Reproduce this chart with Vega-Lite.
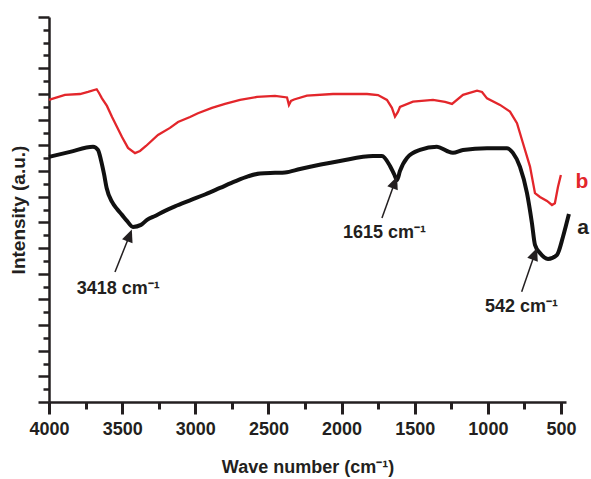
{
  "$schema": "https://vega.github.io/schema/vega-lite/v6.json",
  "width": 517,
  "height": 385,
  "autosize": {"type": "none"},
  "padding": {"left": 49, "top": 17, "right": 25, "bottom": 77},
  "background": "white",
  "config": {
    "view": {"stroke": null},
    "font": "Liberation Sans",
    "axis": {"labelFont": "Liberation Sans", "titleFont": "Liberation Sans", "grid": false, "domainColor": "#231f20", "tickColor": "#231f20", "labelColor": "#231f20", "titleColor": "#231f20"}
  },
  "datasets": {
    "a": [
      {"wn": 4000, "val": 19.10}, {"wn": 3856, "val": 19.49}, {"wn": 3699, "val": 19.88}, {"wn": 3665, "val": 19.64},
      {"wn": 3645, "val": 18.86}, {"wn": 3624, "val": 17.77}, {"wn": 3606, "val": 16.68}, {"wn": 3569, "val": 15.59},
      {"wn": 3535, "val": 15.04}, {"wn": 3501, "val": 14.58}, {"wn": 3467, "val": 14.11}, {"wn": 3426, "val": 13.64},
      {"wn": 3371, "val": 13.80}, {"wn": 3330, "val": 14.19}, {"wn": 3275, "val": 14.50}, {"wn": 3207, "val": 14.89},
      {"wn": 3139, "val": 15.24}, {"wn": 3036, "val": 15.71}, {"wn": 2934, "val": 16.17}, {"wn": 2831, "val": 16.68},
      {"wn": 2729, "val": 17.19}, {"wn": 2640, "val": 17.58}, {"wn": 2558, "val": 17.81}, {"wn": 2455, "val": 17.86},
      {"wn": 2387, "val": 17.89}, {"wn": 2284, "val": 18.16}, {"wn": 2011, "val": 18.78}, {"wn": 1785, "val": 19.17},
      {"wn": 1724, "val": 19.17}, {"wn": 1669, "val": 18.39}, {"wn": 1642, "val": 17.77}, {"wn": 1621, "val": 17.30},
      {"wn": 1601, "val": 18.00}, {"wn": 1553, "val": 19.02}, {"wn": 1464, "val": 19.64}, {"wn": 1348, "val": 19.88},
      {"wn": 1280, "val": 19.56}, {"wn": 1239, "val": 19.43}, {"wn": 1170, "val": 19.64}, {"wn": 1006, "val": 19.77},
      {"wn": 870, "val": 19.77}, {"wn": 829, "val": 19.41}, {"wn": 781, "val": 18.34}, {"wn": 733, "val": 16.29},
      {"wn": 699, "val": 13.95}, {"wn": 678, "val": 12.24}, {"wn": 644, "val": 11.61}, {"wn": 589, "val": 11.15},
      {"wn": 528, "val": 11.46}, {"wn": 487, "val": 12.86}, {"wn": 467, "val": 13.72}, {"wn": 446, "val": 14.65}
    ],
    "b": [
      {"wn": 4000, "val": 23.54}, {"wn": 3979, "val": 23.62}, {"wn": 3891, "val": 23.93}, {"wn": 3788, "val": 24.00},
      {"wn": 3733, "val": 24.16}, {"wn": 3674, "val": 24.37}, {"wn": 3658, "val": 24.08}, {"wn": 3638, "val": 23.66},
      {"wn": 3604, "val": 23.07}, {"wn": 3569, "val": 22.21}, {"wn": 3535, "val": 21.43}, {"wn": 3501, "val": 20.65},
      {"wn": 3460, "val": 19.80}, {"wn": 3412, "val": 19.39}, {"wn": 3378, "val": 19.56}, {"wn": 3337, "val": 19.95},
      {"wn": 3255, "val": 20.81}, {"wn": 3173, "val": 21.36}, {"wn": 3118, "val": 21.82}, {"wn": 3036, "val": 22.21},
      {"wn": 2982, "val": 22.50}, {"wn": 2886, "val": 22.92}, {"wn": 2797, "val": 23.23}, {"wn": 2694, "val": 23.54},
      {"wn": 2578, "val": 23.77}, {"wn": 2455, "val": 23.85}, {"wn": 2373, "val": 23.73}, {"wn": 2360, "val": 23.14},
      {"wn": 2346, "val": 23.46}, {"wn": 2325, "val": 23.57}, {"wn": 2237, "val": 23.88}, {"wn": 2059, "val": 24.00},
      {"wn": 1826, "val": 24.00}, {"wn": 1751, "val": 23.92}, {"wn": 1690, "val": 23.54}, {"wn": 1656, "val": 22.92},
      {"wn": 1635, "val": 22.24}, {"wn": 1615, "val": 22.60}, {"wn": 1601, "val": 22.99}, {"wn": 1512, "val": 23.41},
      {"wn": 1375, "val": 23.54}, {"wn": 1293, "val": 23.38}, {"wn": 1245, "val": 23.23}, {"wn": 1170, "val": 23.93},
      {"wn": 1074, "val": 24.26}, {"wn": 1040, "val": 24.16}, {"wn": 1006, "val": 23.66}, {"wn": 917, "val": 23.15},
      {"wn": 849, "val": 22.63}, {"wn": 801, "val": 21.72}, {"wn": 760, "val": 20.16}, {"wn": 712, "val": 18.34},
      {"wn": 678, "val": 16.27}, {"wn": 644, "val": 15.98}, {"wn": 596, "val": 15.67}, {"wn": 562, "val": 15.35},
      {"wn": 542, "val": 15.49}, {"wn": 521, "val": 16.76}, {"wn": 501, "val": 17.69}
    ],
    "arrows": [
      {"wn": 3549, "val": 10.13, "wn2": 3451, "val2": 12.94},
      {"wn": 1724, "val": 14.34, "wn2": 1638, "val2": 17.06},
      {"wn": 769, "val": 8.60, "wn2": 681, "val2": 11.50}
    ],
    "heads": [
      {"wn": 3451, "val": 12.94},
      {"wn": 1638, "val": 17.06},
      {"wn": 681, "val": 11.50}
    ],
    "notes": [
      {"wn": 3811, "val": 8.42, "label": "3418 cm⁻¹"},
      {"wn": 1990, "val": 12.78, "label": "1615 cm⁻¹"},
      {"wn": 1020, "val": 7.04, "label": "542 cm⁻¹"}
    ],
    "labA": [{"wn": 350, "val": 13.09, "label": "a"}],
    "labB": [{"wn": 357, "val": 16.68, "label": "b"}]
  },
  "encoding": {
    "x": {
      "field": "wn", "type": "quantitative",
      "scale": {"domain": [4000, 466], "nice": false, "zero": false},
      "axis": {
        "title": "Wave number (cm⁻¹)",
        "values": [4000, 3750, 3500, 3250, 3000, 2750, 2500, 2250, 2000, 1750, 1500, 1250, 1000, 750, 500],
        "format": "d",
        "labelExpr": "datum.value % 500 === 0 ? datum.label : ''",
        "tickSize": {"condition": {"test": "datum.value % 500 === 0", "value": 12}, "value": 7},
        "tickWidth": 3,
        "domainWidth": 2.5,
        "labelFontSize": 18,
        "labelFontWeight": "bold",
        "labelPadding": 6,
        "labelFlush": false,
        "labelOverlap": false,
        "titleFontSize": 18,
        "titleFontWeight": "bold",
        "titlePadding": 20
      }
    },
    "y": {
      "field": "val", "type": "quantitative",
      "scale": {"domain": [0, 30], "nice": false, "zero": false},
      "axis": {
        "title": "Intensity (a.u.)",
        "values": [0,1,2,3,4,5,6,7,8,9,10,11,12,13,14,15,16,17,18,19,20,21,22,23,24,25,26,27,28,29,30],
        "labels": false,
        "tickSize": {"condition": {"test": "datum.value % 2 === 0 && datum.value !== 28", "value": 11}, "value": 6},
        "tickWidth": 2.5,
        "domainWidth": 2.5,
        "titleFontSize": 19,
        "titleFontWeight": "bold",
        "titlePadding": 8
      }
    }
  },
  "layer": [
    {"data": {"name": "b"}, "mark": {"type": "line", "color": "#e3262b", "strokeWidth": 2.3, "interpolate": "linear"}},
    {"data": {"name": "a"}, "mark": {"type": "line", "color": "#111111", "strokeWidth": 4, "interpolate": "monotone"}},
    {"data": {"name": "arrows"}, "mark": {"type": "rule", "color": "#231f20", "strokeWidth": 1.5},
      "encoding": {"x2": {"field": "wn2"}, "y2": {"field": "val2"}}},
    {"data": {"name": "heads"}, "mark": {"type": "point", "shape": "M0,-1L0.8,0.8L-0.8,0.8Z", "size": 196, "angle": 21, "filled": true, "color": "#231f20", "opacity": 1}},
    {"data": {"name": "notes"}, "mark": {"type": "text", "align": "left", "baseline": "alphabetic", "fontSize": 18, "fontWeight": "bold", "color": "#231f20"},
      "encoding": {"text": {"field": "label"}}},
    {"data": {"name": "labA"}, "mark": {"type": "text", "align": "center", "baseline": "alphabetic", "fontSize": 21, "fontWeight": "bold", "color": "#231f20"},
      "encoding": {"text": {"field": "label"}}},
    {"data": {"name": "labB"}, "mark": {"type": "text", "align": "center", "baseline": "alphabetic", "fontSize": 21, "fontWeight": "bold", "color": "#e3262b"},
      "encoding": {"text": {"field": "label"}}}
  ]
}
